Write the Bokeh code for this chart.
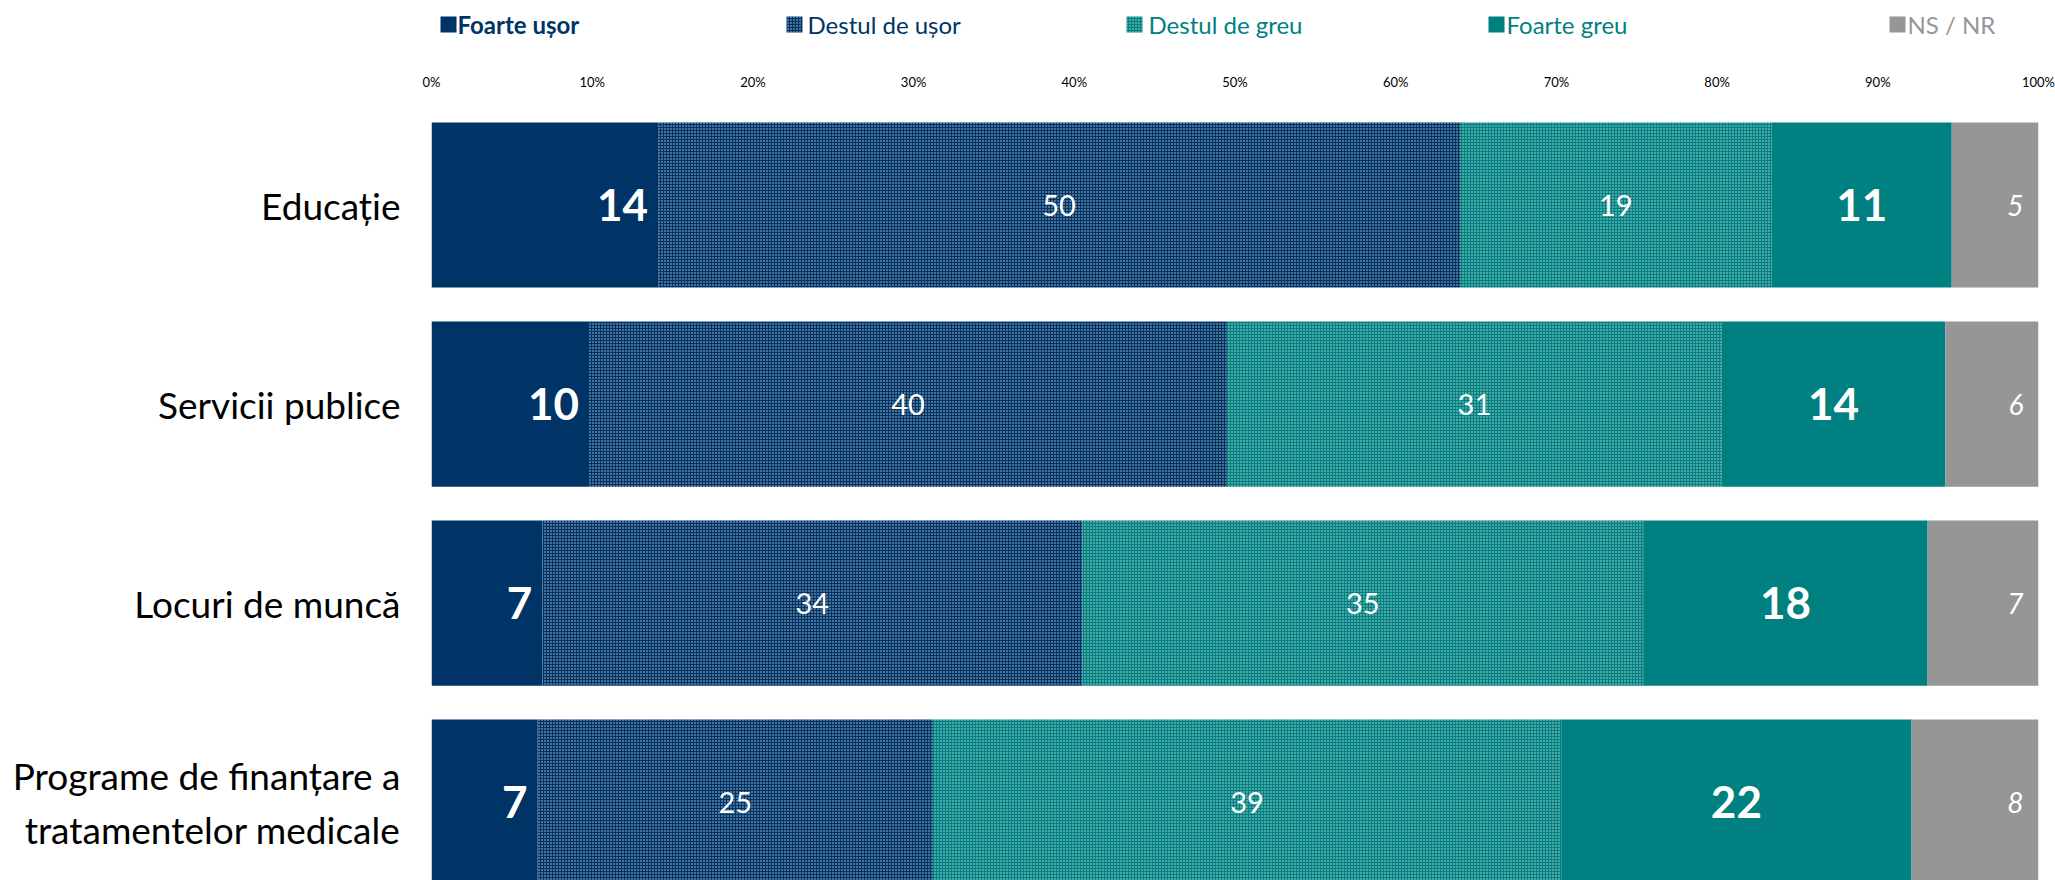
from bokeh.plotting import figure
from bokeh.models import ColumnDataSource, Range1d, FixedTicker, PrintfTickFormatter
from bokeh.layouts import column
from bokeh.core.properties import value
from bokeh.embed import file_html
from bokeh.resources import INLINE

# ---------------- data ----------------
categories = ["Educație", "Servicii publice", "Locuri de muncă",
              "Programe de finanțare a\ntratamentelor medicale"]
series_names = ["Foarte ușor", "Destul de ușor", "Destul de greu", "Foarte greu", "NS / NR"]
foarte_usor = [14.1, 9.8, 6.9, 6.6]
destul_usor = [49.9, 39.7, 33.6, 24.6]
destul_greu = [19.4, 30.8, 34.9, 39.1]
foarte_greu = [11.2, 13.9, 17.7, 21.8]
ns_nr = [5.4, 5.8, 6.9, 7.9]
x_ticks = [0, 10, 20, 30, 40, 50, 60, 70, 80, 90, 100]

# ---------------- styles ----------------
FONT = "Lato"
NAVY = "#003366"
TEAL = "#008080"
GRAY = "#969696"
colors = [NAVY, NAVY, TEAL, TEAL, GRAY]
hatches = [" ", "dot", "dot", " ", " "]
legend_colors = [NAVY, NAVY, TEAL, TEAL, GRAY]
legend_styles = ["bold", "normal", "normal", "normal", "normal"]

W = 2055
H_LEG = 58
H_MAIN = 822
BL = 431   # frame left (px)
BR = 17    # right border (px)

series = [foarte_usor, destul_usor, destul_greu, foarte_greu, ns_nr]
keys = ["s0", "s1", "s2", "s3", "s4"]
ypos = [len(categories) - 1 - i for i in range(len(categories))]

data = {"y": ypos}
for k, s in zip(keys, series):
    data[k] = s
source = ColumnDataSource(data)

# ---------------- main figure ----------------
p = figure(width=W, height=H_MAIN, output_backend="svg", toolbar_location=None,
           x_range=Range1d(0, 100), y_range=Range1d(-0.394, 3.5),
           x_axis_location="above",
           min_border_left=BL, min_border_right=BR, min_border_top=47, min_border_bottom=0)
p.outline_line_color = None
p.xgrid.visible = False
p.ygrid.visible = False

p.hbar_stack(keys, y="y", height=0.83, source=source, fill_color=colors,
             line_color=None, hatch_pattern=hatches, hatch_color="white",
             hatch_scale=3, hatch_weight=1, hatch_alpha=0.75)

# x axis (top)
xa = p.xaxis[0]
xa.ticker = FixedTicker(ticks=x_ticks)
xa.formatter = PrintfTickFormatter(format="%d%%")
xa.axis_line_color = None
xa.major_tick_line_color = None
xa.minor_tick_line_color = None
xa.major_tick_out = 0
xa.major_tick_in = 0
xa.major_label_standoff = 16
xa.major_label_text_font = FONT
xa.major_label_text_font_size = "13px"
xa.major_label_text_color = "#000000"

# y axis (categories)
ya = p.yaxis[0]
ya.ticker = FixedTicker(ticks=ypos)
ya.major_label_overrides = {y: c for y, c in zip(ypos, categories)}
ya.axis_line_color = None
ya.major_tick_line_color = None
ya.minor_tick_line_color = None
ya.major_tick_out = 0
ya.major_tick_in = 0
ya.major_label_standoff = 31
ya.major_label_text_font = FONT
ya.major_label_text_font_size = "37px"
ya.major_label_text_color = "#000000"

# value labels
cum = [0.0] * len(categories)
label_specs = [
    # (align, style, size, offset)
    ("end", "bold", "44px", -10),
    ("center", "normal", "29px", 0),
    ("center", "normal", "29px", 0),
    ("center", "bold", "44px", 0),
    ("end", "italic", "28px", -15),
]
for s, spec in zip(series, label_specs):
    align, style, size, off = spec
    lefts = cum[:]
    rights = [a + b for a, b in zip(cum, s)]
    cum = rights
    if align == "end":
        xs = rights
        ta = "right"
    else:
        xs = [(a + b) / 2 for a, b in zip(lefts, rights)]
        ta = "center"
    src = ColumnDataSource(dict(x=xs, y=ypos, t=[str(int(round(v))) for v in s]))
    p.text(x="x", y="y", text="t", source=src, text_color="white",
           text_font=value(FONT), text_font_size=value(size), text_font_style=style,
           text_align=ta, text_baseline="middle", x_offset=off)

# ---------------- legend figure (x in page pixels) ----------------
leg = figure(width=W, height=H_LEG, output_backend="svg", toolbar_location=None,
             x_range=Range1d(BL, W - BR), y_range=Range1d(0, H_LEG),
             x_axis_type=None, y_axis_type=None,
             min_border_left=BL, min_border_right=BR, min_border_top=0, min_border_bottom=0)
leg.outline_line_color = None
leg.xgrid.visible = False
leg.ygrid.visible = False

sq_left = [440, 786, 1126, 1488, 1889]
txt_left = [457, 807, 1148, 1506, 1907]
sq = 16
cy = H_LEG - 24
leg.rect(x=[v + sq / 2 for v in sq_left], y=[cy] * 5, width=sq, height=sq,
         width_units="screen", height_units="screen",
         fill_color=colors, line_color=None,
         hatch_pattern=hatches, hatch_color="white", hatch_scale=3,
         hatch_weight=1, hatch_alpha=0.75)
for tx, name, col, st in zip(txt_left, series_names, legend_colors, legend_styles):
    leg.text(x=[tx], y=[cy], text=[name], text_color=col,
             text_font=value(FONT), text_font_size=value("24px"), text_font_style=st,
             text_align="left", text_baseline="middle")

layout = column(leg, p, spacing=0)
open("out.html", "w").write(file_html(layout, INLINE))
